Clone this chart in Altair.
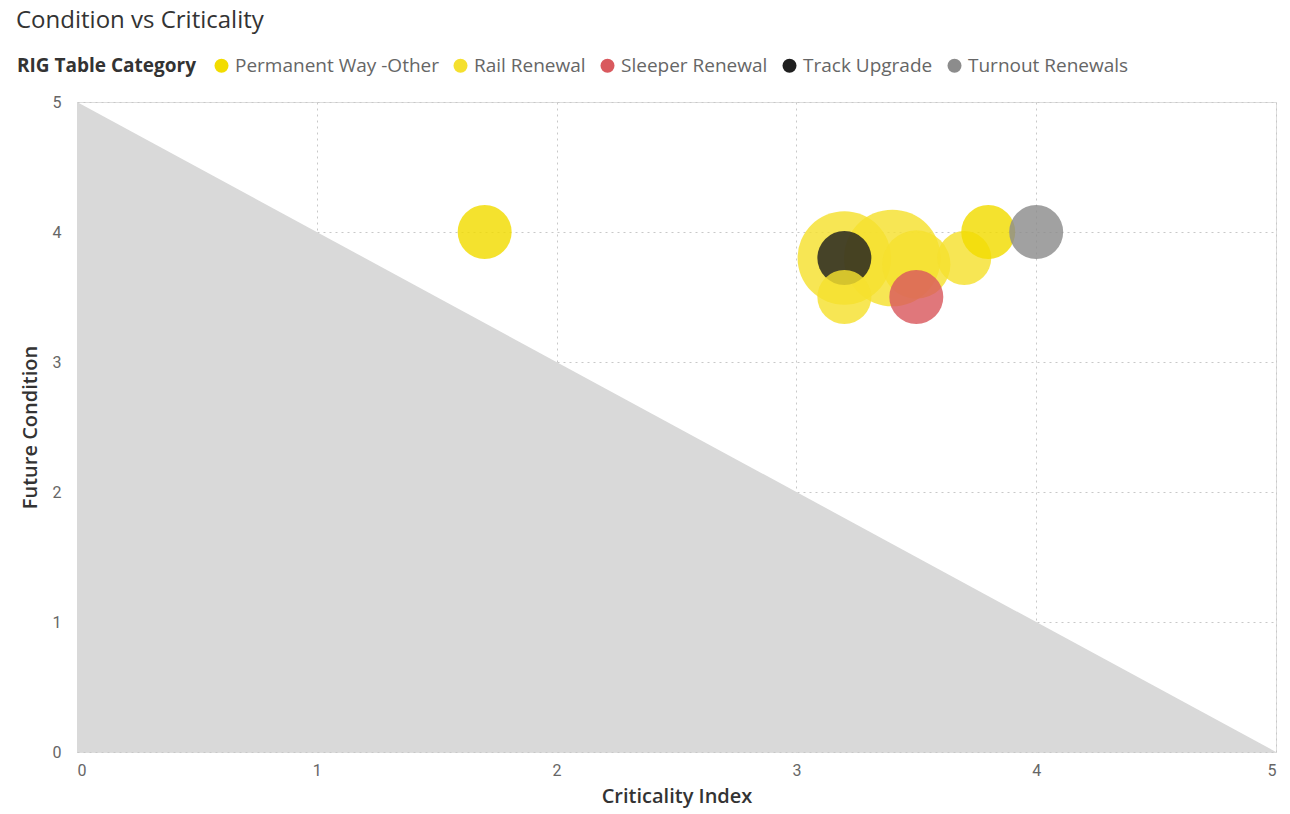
import altair as alt
import pandas as pd

# Bubbles: category, criticality index, future condition, weight, drawing order
categories = ["Rail Renewal", "Rail Renewal", "Rail Renewal", "Track Upgrade", "Rail Renewal",
              "Sleeper Renewal", "Rail Renewal", "Permanent Way -Other", "Permanent Way -Other",
              "Turnout Renewals"]
criticality = [3.2, 3.4, 3.5, 3.2, 3.2, 3.5, 3.7, 1.7, 3.8, 4.0]
condition = [3.8, 3.8, 3.75, 3.8, 3.5, 3.5, 3.8, 4.0, 4.0, 4.0]
weight = [3.0, 3.2, 1.6, 1.0, 1.0, 1.0, 1.0, 1.0, 1.0, 1.0]

legend_order = ["Permanent Way -Other", "Rail Renewal", "Sleeper Renewal", "Track Upgrade", "Turnout Renewals"]
legend_colors = ["#F2DC00", "#F5E02E", "#D9595E", "#1F1F1F", "#8C8C8C"]

# Shaded region below the line condition = 5 - criticality
band_x = [0, 5]
band_y = [5, 0]

bubbles = pd.DataFrame({
    "RIG Table Category": categories,
    "Criticality Index": criticality,
    "Future Condition": condition,
    "Weight": weight,
    "Order": list(range(len(categories))),
})
band = pd.DataFrame({"x": band_x, "y": band_y})

HEAD_FONT = "Roboto"
TEXT_FONT = "Open Sans"

x_scale = alt.Scale(domain=[0, 5], nice=False, zero=False)
y_scale = alt.Scale(domain=[0, 5], nice=False, zero=False)

x_axis = alt.Axis(values=[0, 1, 2, 3, 4, 5], format="d", title="Criticality Index",
                  grid=True, gridDash=[2, 4], gridColor="#C8C8C8", domain=False, ticks=False,
                  labelPadding=10, labelFontSize=16, labelColor="#666666", labelFont=HEAD_FONT,
                  titleFontSize=20, titleColor="#333333", titleFont=TEXT_FONT, titleFontWeight=600,
                  titlePadding=8)
y_axis = alt.Axis(values=[0, 1, 2, 3, 4, 5], format="d", title="Future Condition",
                  grid=True, gridDash=[2, 4], gridColor="#C8C8C8", domain=False, ticks=False,
                  labelPadding=16, labelFontSize=16, labelColor="#666666", labelFont=HEAD_FONT,
                  titleFontSize=20, titleColor="#333333", titleFont=TEXT_FONT, titleFontWeight=600,
                  titlePadding=12)

area = alt.Chart(band).mark_area(color="#D9D9D9", opacity=1).encode(
    x=alt.X("x:Q", scale=x_scale, axis=x_axis),
    y=alt.Y("y:Q", scale=y_scale, axis=y_axis),
)

points = alt.Chart(bubbles).mark_circle(opacity=0.82).encode(
    x=alt.X("Criticality Index:Q", scale=x_scale),
    y=alt.Y("Future Condition:Q", scale=y_scale),
    size=alt.Size("Weight:Q", scale=alt.Scale(domain=[0, 3], range=[0, 8750], zero=True), legend=None),
    color=alt.Color("RIG Table Category:N",
                    scale=alt.Scale(domain=legend_order, range=legend_colors),
                    legend=alt.Legend(orient="none", legendX=-60, legendY=-46,
                                      direction="horizontal", titleOrient="left",
                                      title="RIG Table Category", titleFont=TEXT_FONT, titleFontSize=19,
                                      titleFontWeight="bold", titleColor="#333333", titlePadding=16,
                                      titleLimit=400,
                                      labelFont=TEXT_FONT, labelFontSize=19, labelColor="#666666",
                                      labelLimit=0, labelOffset=4, symbolType="circle", symbolSize=196,
                                      symbolOpacity=1, symbolStrokeWidth=0, columnPadding=12)),
    order=alt.Order("Order:Q"),
)

chart = alt.layer(area, points).properties(
    width=1199,
    height=650,
    title=alt.Title("Condition vs Criticality", anchor="start", dx=-1, offset=23,
                    font=TEXT_FONT, fontSize=24, fontWeight="normal", color="#333333"),
    autosize=alt.AutoSizeParams(type="none"),
    padding={"left": 77, "top": 102, "right": 14, "bottom": 62},
).configure_view(strokeWidth=0).configure(background="white")

chart.save("out.html", embed_options={"renderer": "svg", "actions": False})
